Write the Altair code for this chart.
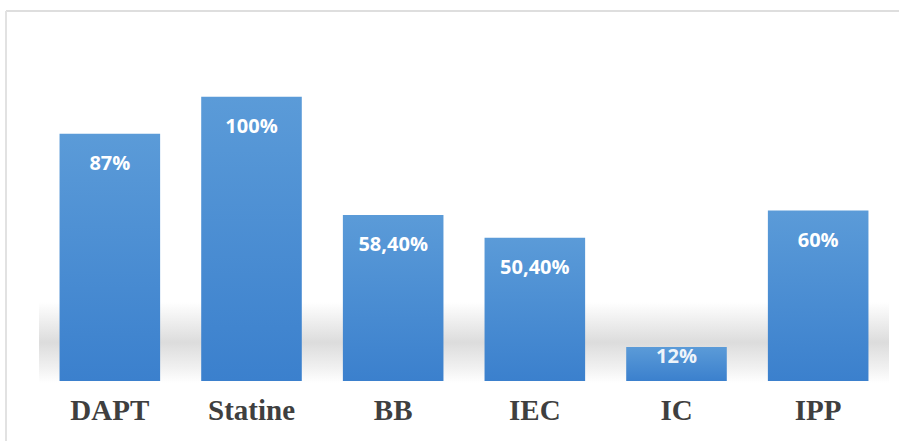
import altair as alt
import pandas as pd

categories = ["DAPT", "Statine", "BB", "IEC", "IC", "IPP"]
values = [87, 100, 58.4, 50.4, 12, 60]
labels = ["87%", "100%", "58,40%", "50,40%", "12%", "60%"]

df = pd.DataFrame({"cat": categories, "val": values, "lab": labels})

x = alt.X("cat:N", sort=categories,
          scale=alt.Scale(paddingInner=0.29, paddingOuter=0.145),
          axis=alt.Axis(title=None, labelAngle=0, labelFont="Liberation Serif",
                        labelFontWeight="bold", labelFontSize=29, labelColor="#3f3f3f",
                        ticks=False, tickSize=0, domain=False, labelPadding=15))
y = alt.Y("val:Q", scale=alt.Scale(domain=[0, 120]), axis=None)

base = alt.Chart(df)

frame_top = base.mark_rule(color="#dedede", strokeWidth=2).encode(
    x=alt.value(-33), x2=alt.value(870), y=alt.value(-29))
frame_left = base.mark_rule(color="#e2e2e2", strokeWidth=2).encode(
    x=alt.value(-33), y=alt.value(-29), y2=alt.value(420))

shadow = base.mark_rect(
    fill=alt.Gradient(gradient="linear", x1=0, x2=0, y1=0, y2=1,
                      stops=[alt.GradientStop(offset=0, color="#ffffff"),
                             alt.GradientStop(offset=0.5, color="#dcdcdc"),
                             alt.GradientStop(offset=0.8, color="#f0f0f0"),
                             alt.GradientStop(offset=1, color="#ffffff")]),
    opacity=0.8
).encode(x=alt.value(0), x2=alt.value(850), y=alt.value(262), y2=alt.value(343))

bars = base.mark_bar(
    fill=alt.Gradient(gradient="linear", x1=0, x2=0, y1=0, y2=1,
                      stops=[alt.GradientStop(offset=0, color="#5b9bd8"),
                             alt.GradientStop(offset=1, color="#3b80cd")])
).encode(x=x, y=y)

txt_big = base.transform_filter("datum.val >= 20").mark_text(
    color="white", font="Open Sans", fontWeight="bold", fontSize=20, dy=30
).encode(x=x, y=y, text="lab:N")

txt_small = base.transform_filter("datum.val < 20").mark_text(
    color="white", font="Open Sans", fontWeight="bold", fontSize=20, dy=10, opacity=0.9
).encode(x=x, y=y, text="lab:N")

chart = alt.layer(frame_top, frame_left, shadow, bars, txt_big, txt_small).properties(
    width=850, height=341,
    autosize=alt.AutoSizeParams(type="none"),
    padding={"left": 39, "top": 40, "right": 10, "bottom": 60},
    background="white"
).configure_view(stroke=None)

chart.save("out.html", embed_options={"renderer": "svg", "actions": False})
